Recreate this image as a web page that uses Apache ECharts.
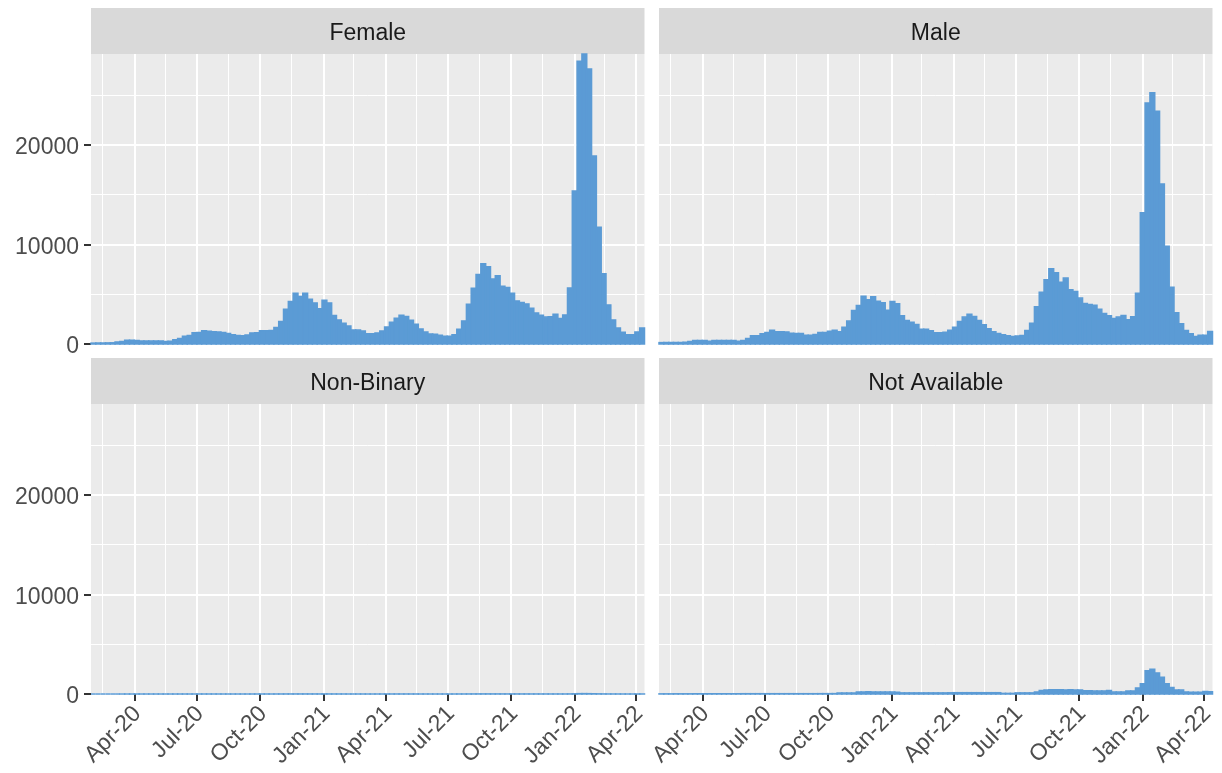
<!DOCTYPE html>
<html>
<head>
<meta charset="utf-8">
<script src="https://cdn.jsdelivr.net/npm/echarts@6/dist/echarts.min.js"></script>
<style>
  html, body { margin: 0; padding: 0; background: #ffffff; }
  #chart { width: 1222px; height: 773px; }
</style>
</head>
<body>
<div id="chart"></div>
<script>
// weekly bins, first week starting 2020-01-29
var firstWeek = Date.UTC(2020, 0, 29);
var DAY = 86400000;

var panels = ['Female', 'Male', 'Non-Binary', 'Not Available'];

var female = [90, 100, 100, 110, 120, 200, 250, 370, 370, 360,
    300, 300, 290, 300, 300, 240, 270, 430, 560, 770,
    850, 1140, 1150, 1340, 1280, 1220, 1210, 1150, 1050, 940,
    850, 840, 900, 1110, 1120, 1340, 1340, 1350, 1650, 2250,
    3500, 4270, 5100, 4770, 5100, 4500, 4130, 3530, 4400, 4130,
    2860, 2420, 2080, 1810, 1410, 1400, 1300, 1040, 1040, 1110,
    1310, 1710, 2180, 2590, 2890, 2760, 2390, 1980, 1510, 1210,
    1010, 975, 870, 770, 780, 940, 1480, 2320, 4000, 5610,
    6990, 8060, 7760, 6520, 6850, 5810, 5680, 5110, 4330, 4170,
    4030, 3600, 3120, 2880, 2700, 2740, 3000, 2560, 2920, 5620,
    15360, 28400, 29130, 27620, 18880, 11730, 7060, 3930, 2420, 1610,
    1180, 940, 940, 1210, 1610];

var male = [140, 150, 150, 160, 150, 170, 250, 350, 350, 350,
    285, 340, 350, 350, 350, 340, 285, 350, 550, 820,
    830, 1020, 1150, 1390, 1230, 1220, 1210, 1090, 1060, 1050,
    890, 880, 960, 1150, 1160, 1290, 1390, 1220, 1690, 2300,
    3370, 3870, 4800, 4440, 4740, 4300, 4140, 3400, 4270, 4040,
    2830, 2360, 2190, 1960, 1490, 1480, 1320, 1130, 1120, 1190,
    1390, 1690, 2260, 2700, 3000, 2760, 2360, 1930, 1520, 1220,
    1055, 920, 820, 750, 800, 850, 1360, 2090, 3740, 5210,
    6450, 7550, 7150, 6210, 6620, 5440, 5280, 4610, 4070, 3970,
    3900, 3500, 3060, 2830, 2560, 2700, 2860, 2430, 2740, 5110,
    13180, 24200, 25240, 23370, 16060, 9830, 5710, 3130, 2030, 1360,
    1020, 750, 870, 890, 1260];

var nonBinary = [0, 0, 0, 0, 0, 0, 1, 1, 1, 1,
    1, 1, 1, 1, 1, 1, 1, 1, 2, 2,
    2, 2, 3, 3, 3, 3, 3, 2, 2, 2,
    2, 2, 2, 3, 3, 3, 3, 3, 4, 5,
    6, 7, 8, 8, 8, 7, 7, 6, 7, 6,
    5, 4, 4, 3, 3, 3, 3, 2, 2, 3,
    3, 4, 4, 5, 5, 5, 4, 4, 3, 3,
    3, 2, 2, 2, 2, 3, 4, 5, 7, 9,
    11, 12, 12, 11, 11, 10, 9, 8, 7, 7,
    7, 6, 6, 5, 5, 5, 5, 5, 5, 9,
    20, 35, 38, 33, 24, 15, 10, 6, 5, 4,
    3, 3, 3, 3, 4];

var notAvailable = [15, 15, 15, 20, 20, 20, 20, 25, 25, 25,
    25, 25, 25, 25, 25, 25, 25, 30, 30, 30,
    30, 30, 30, 30, 30, 30, 30, 30, 30, 30,
    30, 30, 30, 35, 35, 35, 40, 100, 100, 100,
    100, 200, 210, 220, 210, 200, 200, 190, 190, 180,
    110, 110, 110, 110, 110, 110, 110, 110, 110, 110,
    120, 130, 130, 130, 130, 130, 130, 130, 130, 130,
    130, 60, 60, 60, 110, 110, 110, 110, 200, 350,
    400, 420, 420, 420, 410, 420, 400, 400, 330, 320,
    290, 290, 290, 340, 190, 190, 190, 300, 300, 610,
    1040, 2330, 2480, 2120, 1690, 1040, 650, 400, 390, 200,
    180, 180, 170, 250, 230];

var seriesValues = [female, male, nonBinary, notAvailable];

// axis breaks
var xMajorTicks = [Date.UTC(2020, 3, 1), Date.UTC(2020, 6, 1), Date.UTC(2020, 9, 1),
    Date.UTC(2021, 0, 1), Date.UTC(2021, 3, 1), Date.UTC(2021, 6, 1),
    Date.UTC(2021, 9, 1), Date.UTC(2022, 0, 1), Date.UTC(2022, 3, 1)];
var xMinorTicks = [Date.UTC(2020, 1, 15), Date.UTC(2020, 4, 16), Date.UTC(2020, 7, 16),
    Date.UTC(2020, 10, 15), Date.UTC(2021, 1, 14), Date.UTC(2021, 4, 16),
    Date.UTC(2021, 7, 16), Date.UTC(2021, 10, 15), Date.UTC(2022, 1, 14)];
var yMajorTicks = [0, 10000, 20000];
var yMinorTicks = [5000, 15000, 25000];

var monthNames = ['Jan', 'Feb', 'Mar', 'Apr', 'May', 'Jun', 'Jul', 'Aug', 'Sep', 'Oct', 'Nov', 'Dec'];

var nWeeks = female.length;
var xMin = firstWeek;
var xMax = firstWeek + nWeeks * 7 * DAY;
var yMax = Math.max.apply(null, female.concat(male, nonBinary, notAvailable));

var FONT = 'Liberation Sans, Arial, sans-serif';
var boxes = [
    { left: 91, top: 54 },
    { left: 659, top: 54 },
    { left: 91, top: 404 },
    { left: 659, top: 404 }
];
var PW = 553.5, PH = 290, STRIP = 46;

function fmtDate(v) {
    var d = new Date(v);
    return '{t|' + monthNames[d.getUTCMonth()] + '-' + String(d.getUTCFullYear()).slice(2) + '}';
}

function renderBar(params, api) {
    var p0 = api.coord([api.value(0), api.value(2)]);
    var p1 = api.coord([api.value(1), 0]);
    return {
        type: 'rect',
        shape: { x: p0[0], y: p0[1], width: p1[0] - p0[0], height: p1[1] - p0[1] },
        style: { fill: '#5b9bd5', stroke: '#5b9bd5', lineWidth: 1.5 }
    };
}

var labelText = { fontSize: 23, color: '#4d4d4d', fontFamily: FONT };

var grids = [], xAxes = [], yAxes = [], series = [], graphics = [];

panels.forEach(function (name, i) {
    var b = boxes[i];
    var bottomRow = i >= 2;
    var leftCol = i % 2 === 0;
    grids.push({
        left: b.left, top: b.top, width: PW, height: PH,
        show: true, backgroundColor: '#ebebeb', borderWidth: 0
    });
    // major x
    xAxes.push({
        type: 'value', gridIndex: i, min: xMin, max: xMax,
        axisLine: { show: false },
        axisTick: { show: bottomRow, customValues: xMajorTicks, length: 7,
            lineStyle: { color: '#333333', width: 2 } },
        axisLabel: { show: bottomRow, customValues: xMajorTicks, formatter: fmtDate,
            rotate: 45, margin: 13, align: 'right', verticalAlign: 'middle',
            rich: { t: { fontSize: 23, color: '#4d4d4d', fontFamily: FONT, padding: [9, 0, 0, 0] } } },
        splitLine: { show: true, lineStyle: { color: '#ffffff', width: 2 } }
    });
    // minor x
    xAxes.push({
        type: 'value', gridIndex: i, min: xMin, max: xMax,
        axisLine: { show: false },
        axisTick: { show: false, customValues: xMinorTicks },
        axisLabel: { show: false, customValues: xMinorTicks },
        splitLine: { show: true, lineStyle: { color: '#ffffff', width: 1 } }
    });
    // major y
    yAxes.push({
        type: 'value', gridIndex: i, min: 0, max: yMax,
        axisLine: { show: false },
        axisTick: { show: leftCol, customValues: yMajorTicks, length: 7,
            lineStyle: { color: '#333333', width: 2 } },
        axisLabel: { show: leftCol, customValues: yMajorTicks, margin: 12,
            formatter: function (v) { return '{t|' + v + '}'; },
            rich: { t: { fontSize: 23, color: '#4d4d4d', fontFamily: FONT, padding: [6, 0, 0, 0] } } },
        splitLine: { show: true, lineStyle: { color: '#ffffff', width: 2 } }
    });
    // minor y
    yAxes.push({
        type: 'value', gridIndex: i, min: 0, max: yMax,
        axisLine: { show: false },
        axisTick: { show: false, customValues: yMinorTicks },
        axisLabel: { show: false, customValues: yMinorTicks },
        splitLine: { show: true, lineStyle: { color: '#ffffff', width: 1 } }
    });

    var data = seriesValues[i].map(function (v, k) {
        var s = firstWeek + k * 7 * DAY;
        return [s, s + 7 * DAY, v];
    });
    series.push({
        type: 'custom', name: name,
        xAxisIndex: i * 2, yAxisIndex: i * 2,
        renderItem: renderBar, clip: false,
        encode: { x: [0, 1], y: 2 },
        data: data, z: 5
    });

    // facet strip
    graphics.push({
        type: 'rect', left: b.left, top: b.top - STRIP,
        shape: { width: PW, height: STRIP },
        style: { fill: '#d9d9d9' }
    });
    graphics.push({
        type: 'text', x: b.left + PW / 2, y: b.top - STRIP / 2 + 3,
        style: { text: name, fill: '#1a1a1a', fontSize: 23, fontFamily: FONT,
            align: 'center', verticalAlign: 'middle' }
    });
});

var chart = echarts.init(document.getElementById('chart'), null, { renderer: 'canvas' });
chart.setOption({
    animation: false,
    backgroundColor: '#ffffff',
    grid: grids,
    xAxis: xAxes,
    yAxis: yAxes,
    series: series,
    graphic: graphics
});
</script>
</body>
</html>
